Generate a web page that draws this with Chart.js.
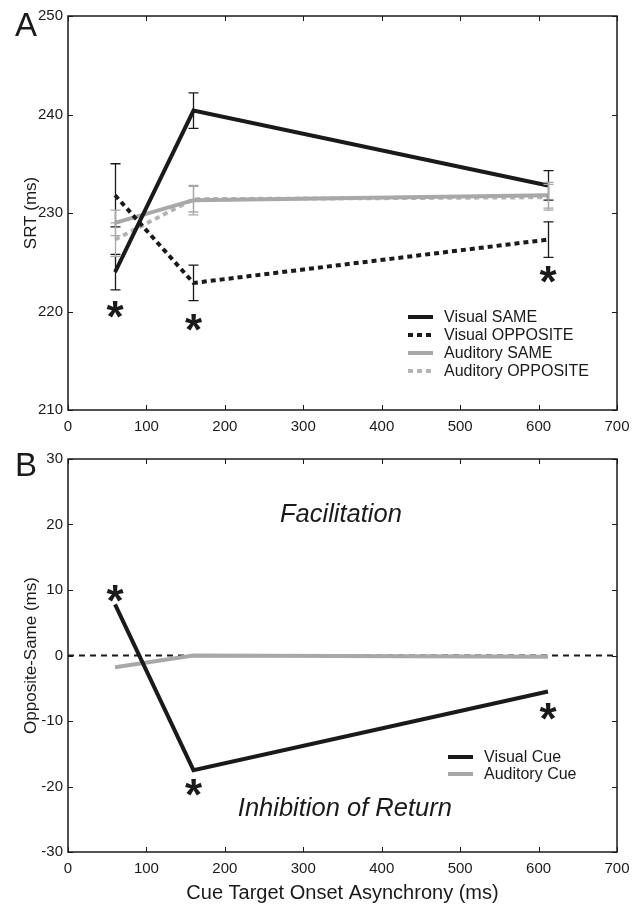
<!DOCTYPE html>
<html>
<head>
<meta charset="utf-8">
<script src="https://cdn.jsdelivr.net/npm/chart.js@4/dist/chart.umd.min.js"></script>
<style>
  body { margin: 0; background: #fff; }
  .panel { position: absolute; left: 0; width: 644px; }
  #pa { top: 0; height: 445px; }
  #pb { top: 445px; height: 459px; }
</style>
</head>
<body>
<div class="panel" id="pa"><canvas id="chartA"></canvas></div>
<div class="panel" id="pb"><canvas id="chartB"></canvas></div>
<script>
// data
const ctoa = [60, 160, 612];

const visSame = [224.0, 240.4, 232.8];
const visSameErr = [1.8, 1.8, 1.5];
const visOpp = [231.8, 222.9, 227.3];
const visOppErr = [3.2, 1.8, 1.8];
const audSame = [229.0, 231.3, 231.8];
const audSameErr = [1.3, 1.5, 1.3];
const audOpp = [227.3, 231.4, 231.6];
const audOppErr = [1.7, 1.3, 1.3];

const visCue = [7.8, -17.5, -5.5];
const audCue = [-1.8, 0.0, -0.2];
const zeroX = [0, 700];
const zeroY = [0, 0];

const starsA = [220.5, 219.1, 224.0];
const starsB = [9.8, -19.8, -8.2];

const xTicks = [0, 100, 200, 300, 400, 500, 600, 700];

const BLACK = "#1a1a1a";
const GRAY = "#a8a8a8";
const GRAY2 = "#b4b4b4";
const FONT = "'Liberation Sans', Arial, sans-serif";

Chart.defaults.font.family = FONT;
Chart.defaults.font.size = 15;
Chart.defaults.color = BLACK;

const pts = (xs, ys) => xs.map((x, i) => ({ x: x, y: ys[i] }));

function lineSet(label, ys, color, dash, err) {
  return {
    label: label,
    data: pts(ctoa, ys),
    borderColor: color,
    borderWidth: 4,
    borderDash: dash,
    borderCapStyle: "butt",
    pointRadius: 0,
    tension: 0,
    fill: false,
    err: err
  };
}

// box around the plot with inward ticks on all sides
const framePlugin = {
  id: "frame",
  afterDraw(chart) {
    const { ctx, chartArea: a, scales: { x, y } } = chart;
    ctx.save();
    ctx.strokeStyle = BLACK;
    ctx.lineWidth = 1.5;
    ctx.strokeRect(a.left, a.top, a.right - a.left, a.bottom - a.top);
    ctx.lineWidth = 1;
    ctx.beginPath();
    x.ticks.forEach(t => {
      const px = Math.round(x.getPixelForValue(t.value)) + 0.5;
      ctx.moveTo(px, a.bottom); ctx.lineTo(px, a.bottom - 5);
      ctx.moveTo(px, a.top); ctx.lineTo(px, a.top + 5);
    });
    y.ticks.forEach(t => {
      const py = Math.round(y.getPixelForValue(t.value)) + 0.5;
      ctx.moveTo(a.left, py); ctx.lineTo(a.left + 5, py);
      ctx.moveTo(a.right, py); ctx.lineTo(a.right - 5, py);
    });
    ctx.stroke();
    ctx.restore();
  }
};

// error bars, asterisks, legend, texts
const decoPlugin = {
  id: "deco",
  afterDatasetsDraw(chart, args, opts) {
    const { ctx, scales: { x, y } } = chart;
    ctx.save();
    chart.data.datasets.forEach(ds => {
      if (!ds.err) return;
      ctx.strokeStyle = ds.errColor;
      ctx.lineWidth = 1.3;
      ctx.setLineDash([]);
      ds.data.forEach((p, i) => {
        const px = Math.round(x.getPixelForValue(p.x)) + 0.5;
        const y1 = y.getPixelForValue(p.y + ds.err[i]);
        const y2 = y.getPixelForValue(p.y - ds.err[i]);
        ctx.beginPath();
        ctx.moveTo(px, y1); ctx.lineTo(px, y2);
        ctx.moveTo(px - 5, y1); ctx.lineTo(px + 5, y1);
        ctx.moveTo(px - 5, y2); ctx.lineTo(px + 5, y2);
        ctx.stroke();
      });
    });

    // asterisks
    ctx.fillStyle = BLACK;
    ctx.font = "bold 44px " + FONT;
    ctx.textAlign = "center";
    ctx.textBaseline = "alphabetic";
    opts.stars.forEach((v, i) => {
      ctx.fillText("*", x.getPixelForValue(ctoa[i]), y.getPixelForValue(v) + 25);
    });

    // texts in the plot
    (opts.texts || []).forEach(t => {
      ctx.font = "italic 25.5px " + FONT;
      ctx.textBaseline = "middle";
      ctx.fillText(t.text, x.getPixelForValue(t.x), y.getPixelForValue(t.y));
    });

    // legend
    ctx.font = "16px " + FONT;
    ctx.textAlign = "left";
    ctx.textBaseline = "middle";
    opts.legend.items.forEach((it, i) => {
      const ly = opts.legend.y + i * opts.legend.gap;
      ctx.strokeStyle = it.color;
      ctx.lineWidth = 4;
      ctx.lineCap = "butt";
      ctx.setLineDash(it.dash);
      ctx.beginPath();
      ctx.moveTo(opts.legend.x, ly); ctx.lineTo(opts.legend.x + 25, ly);
      ctx.stroke();
      ctx.fillStyle = BLACK;
      ctx.fillText(it.label, opts.legend.x + 36, ly + 1);
    });
    ctx.setLineDash([]);

    // axis titles and panel letter
    const a = chart.chartArea;
    ctx.fillStyle = BLACK;
    ctx.textAlign = "center";
    ctx.font = "33px " + FONT;
    ctx.fillText(opts.letter, 26, opts.letterY);
    ctx.font = "17px " + FONT;
    ctx.save();
    ctx.translate(31, (a.top + a.bottom) / 2);
    ctx.rotate(-Math.PI / 2);
    ctx.fillText(opts.yTitle, 0, 0);
    ctx.restore();
    if (opts.xTitle) {
      ctx.font = "20px " + FONT;
      ctx.fillText(opts.xTitle, (a.left + a.right) / 2, opts.xTitleY);
    }
    ctx.restore();
  }
};

function scalesFor(ymin, ymax, xHeight) {
  return {
    x: {
      type: "linear", min: 0, max: 700,
      afterBuildTicks: s => { s.ticks = xTicks.map(v => ({ value: v })); },
      afterFit: s => { s.height = xHeight; },
      grid: { display: false, drawTicks: false },
      border: { display: false },
      ticks: { padding: 8, font: { size: 15 } }
    },
    y: {
      min: ymin, max: ymax,
      afterFit: s => { s.width = 68; },
      grid: { display: false, drawTicks: false },
      border: { display: false },
      ticks: { stepSize: 10, padding: 5, font: { size: 15 } }
    }
  };
}

const setA = [
  lineSet("Visual SAME", visSame, BLACK, [], visSameErr),
  lineSet("Visual OPPOSITE", visOpp, BLACK, [5, 4], visOppErr),
  lineSet("Auditory SAME", audSame, GRAY, [], audSameErr),
  lineSet("Auditory OPPOSITE", audOpp, GRAY2, [5, 4], audOppErr)
];
setA[0].errColor = BLACK; setA[1].errColor = BLACK;
setA[2].errColor = GRAY; setA[3].errColor = GRAY;

new Chart(document.getElementById("chartA"), {
  type: "line",
  data: { datasets: setA },
  options: {
    responsive: true,
    maintainAspectRatio: false,
    animation: false,
    layout: { padding: { top: 16, right: 27, left: 0, bottom: 0 } },
    scales: scalesFor(210, 250, 35),
    plugins: {
      legend: { display: false },
      tooltip: { enabled: false },
      deco: {
        stars: starsA,
        letter: "A", letterY: 27,
        yTitle: "SRT (ms)",
        legend: {
          x: 408, y: 317, gap: 18,
          items: [
            { label: "Visual SAME", color: BLACK, dash: [] },
            { label: "Visual OPPOSITE", color: BLACK, dash: [5, 4] },
            { label: "Auditory SAME", color: GRAY, dash: [] },
            { label: "Auditory OPPOSITE", color: GRAY2, dash: [5, 4] }
          ]
        }
      }
    }
  },
  plugins: [framePlugin, decoPlugin]
});

new Chart(document.getElementById("chartB"), {
  type: "line",
  data: {
    datasets: [
      lineSet("Visual Cue", visCue, BLACK, [], null),
      lineSet("Auditory Cue", audCue, GRAY, [], null),
      {
        label: "zero",
        data: pts(zeroX, zeroY),
        borderColor: BLACK,
        borderWidth: 2,
        borderDash: [6, 5],
        borderCapStyle: "butt",
        pointRadius: 0,
        order: 5
      }
    ]
  },
  options: {
    responsive: true,
    maintainAspectRatio: false,
    animation: false,
    layout: { padding: { top: 14, right: 27, left: 0, bottom: 0 } },
    scales: scalesFor(-30, 30, 52),
    plugins: {
      legend: { display: false },
      tooltip: { enabled: false },
      deco: {
        stars: starsB,
        letter: "B", letterY: 22,
        yTitle: "Opposite-Same (ms)",
        xTitle: "Cue Target Onset Asynchrony (ms)", xTitleY: 448,
        texts: [
          { text: "Facilitation", x: 348, y: 21.4 },
          { text: "Inhibition of Return", x: 353, y: -23.4 }
        ],
        legend: {
          x: 448, y: 312, gap: 17,
          items: [
            { label: "Visual Cue", color: BLACK, dash: [] },
            { label: "Auditory Cue", color: GRAY, dash: [] }
          ]
        }
      }
    }
  },
  plugins: [framePlugin, decoPlugin]
});
</script>
</body>
</html>
